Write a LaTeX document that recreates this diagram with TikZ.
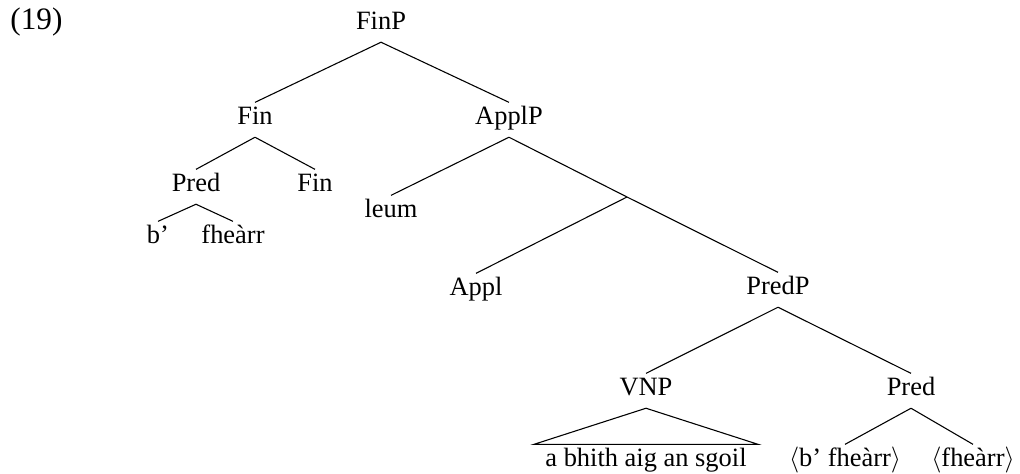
\documentclass[tikz,border=0pt]{standalone}
\usepackage{fontspec}
\setmainfont{Liberation Serif}
\begin{document}
\begin{tikzpicture}[x=0.4615pt,y=-0.4615pt,
  font=\fontsize{12.2}{14}\selectfont,
  lbl/.style={anchor=base, inner xsep=0pt, inner ysep=1.85pt, text height=8.4pt, text depth=3.6pt},
  branch/.style={line width=0.5pt}]
\useasboundingbox (0,0) rectangle (1020,474);
\node[anchor=base west, inner sep=0pt, font=\fontsize{14.4}{17}\selectfont] (ex) at (10,30) {(19)};
\node[lbl] (finp) at (381,30) {FinP};
\node[lbl] (fin) at (255,125) {Fin};
\node[lbl] (applp) at (509,125) {ApplP};
\node[lbl] (pred) at (196,192) {Pred};
\node[lbl] (fin2) at (315,192) {Fin};
\node[lbl] (leum) at (391,218) {leum};
\node[lbl] (b) at (158,244) {b’};
\node[lbl] (fhearr) at (233,244) {fheàrr};
\coordinate (bar) at (627,197);
\node[lbl] (appl) at (476,296) {Appl};
\node[lbl] (predp) at (778,295) {PredP};
\node[lbl] (vnp) at (646,396) {VNP};
\node[lbl] (pred3) at (911,396) {Pred};
\node[lbl, inner xsep=5.1pt] (sgoil) at (646,467) {a bhith aig an sgoil};
\node[lbl] (tb) at (845,467) {$\langle$b’ fheàrr$\rangle$};
\node[lbl] (tf) at (973,467) {$\langle$fheàrr$\rangle$};
\draw[branch] (finp.south) -- (fin.north);
\draw[branch] (finp.south) -- (applp.north);
\draw[branch] (fin.south) -- (pred.north);
\draw[branch] (fin.south) -- (fin2.north);
\draw[branch] (pred.south) -- (b.north);
\draw[branch] (pred.south) -- (fhearr.north);
\draw[branch] (applp.south) -- (leum.north);
\draw[branch] (applp.south) -- (bar);
\draw[branch] (bar) -- (appl.north);
\draw[branch] (bar) -- (predp.north);
\draw[branch] (predp.south) -- (vnp.north);
\draw[branch] (predp.south) -- (pred3.north);
\draw[branch] (vnp.south) -- (sgoil.north west) -- (sgoil.north east) -- cycle;
\draw[branch] (pred3.south) -- (tb.north);
\draw[branch] (pred3.south) -- (tf.north);
\end{tikzpicture}
\end{document}
